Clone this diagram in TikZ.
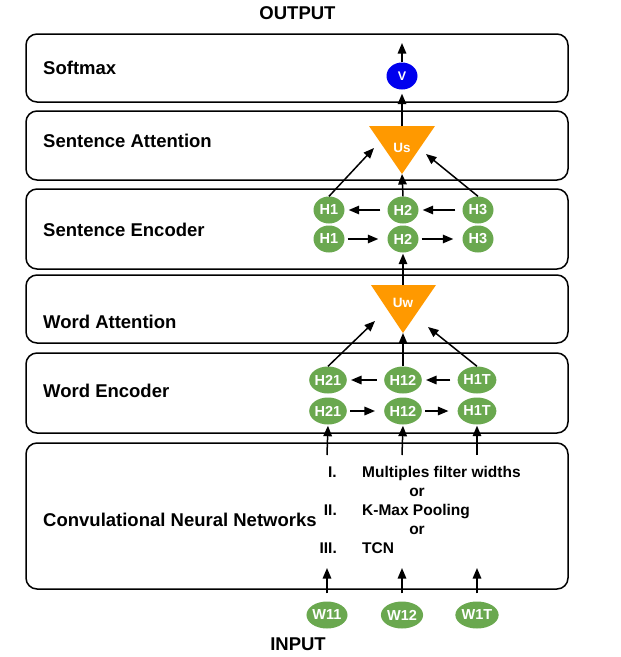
\documentclass[tikz,border=0pt]{standalone}
\usepackage{fontspec}
\setmainfont{Liberation Sans}
\usetikzlibrary{arrows.meta,shapes.geometric}
\definecolor{hgreen}{HTML}{6AA84F}
\definecolor{uorange}{HTML}{FF9900}
\definecolor{vblue}{HTML}{0000EE}
\begin{document}
\begin{tikzpicture}[x=1pt,y=-1pt,
  layerbox/.style={draw=black, line width=1.5pt, rounded corners=11pt, minimum width=542pt, inner sep=0pt},
  lbl/.style={anchor=base west, inner sep=0pt, font=\fontsize{18.5}{20}\selectfont\bfseries},
  opt/.style={anchor=base west, inner sep=0pt, font=\fontsize{15.5}{17}\selectfont\bfseries},
  optnum/.style={anchor=base east, inner sep=0pt, font=\fontsize{15.5}{17}\selectfont\bfseries},
  hnode/.style={ellipse, fill=hgreen, text=white, inner sep=0pt, minimum width=31pt, minimum height=27pt, font=\fontsize{14.5}{14}\selectfont\bfseries},
  vnode/.style={ellipse, fill=vblue, text=white, inner sep=0pt, minimum width=31pt, minimum height=27pt, font=\fontsize{12.5}{12}\selectfont\bfseries},
  tri/.style={fill=uorange},
  tritext/.style={text=white, inner sep=0pt, font=\fontsize{13.5}{13}\selectfont\bfseries},
  arr/.style={-{Triangle[length=10.5pt,width=8.5pt]}, line width=1.5pt, black},
]
\useasboundingbox (0,0) rectangle (621,657);

% layer boxes
\node[layerbox, minimum height=68pt] (softmax) at (297,68) {};
\node[layerbox, minimum height=69pt] (satt) at (297,145.5) {};
\node[layerbox, minimum height=80pt] (senc) at (297,229) {};
\node[layerbox, minimum height=68pt] (watt) at (297,309) {};
\node[layerbox, minimum height=80pt] (wenc) at (297,393) {};
\node[layerbox, minimum height=146pt] (cnn) at (297,516) {};

% layer labels
\node[lbl] (lsoft) at (43,74) {Softmax};
\node[lbl] (lsatt) at (43,147) {Sentence Attention};
\node[lbl] (lsenc) at (43,236) {Sentence Encoder};
\node[lbl] (lwatt) at (43,328.5) {Word Attention};
\node[lbl] (lwenc) at (43,397.5) {Word Encoder};
\node[lbl] (lcnn) at (43,526) {Convulational Neural Networks};
\node[lbl, anchor=base] (output) at (297.5,19.5) {OUTPUT};
\node[lbl, anchor=base] (input) at (298,650) {INPUT};

% CNN options
\node[optnum] (n1) at (337,477) {I.};
\node[opt] (o1) at (362,477) {Multiples filter widths};
\node[opt, anchor=base] (or1) at (417,496) {or};
\node[optnum] (n2) at (337,515) {II.};
\node[opt] (o2) at (362,515) {K-Max Pooling};
\node[opt, anchor=base] (or2) at (417,534) {or};
\node[optnum] (n3) at (337,553) {III.};
\node[opt] (o3) at (362,553) {TCN};

% softmax
\node[vnode] (v) at (402,76) {V};
\coordinate (vout) at (402,43);

% sentence attention triangle
\fill[tri] (369,126) -- (435,126) -- (402,174) -- cycle;
\node[tritext] (us) at (402,147.5) {Us};
\coordinate (ustop) at (402,126);
\coordinate (usapex) at (402,174);
\coordinate (usl) at (374,148);
\coordinate (usr) at (426,154);

% sentence encoder
\node[hnode] (sa1) at (329,210) {H1};
\node[hnode] (sa2) at (403,210) {H2};
\node[hnode] (sa3) at (478,210) {H3};
\node[hnode] (sb1) at (329,239) {H1};
\node[hnode] (sb2) at (403,239) {H2};
\node[hnode] (sb3) at (478,239) {H3};

% word attention triangle
\fill[tri] (371,285) -- (436,285) -- (403,333) -- cycle;
\node[tritext] (uw) at (403,303) {Uw};
\coordinate (uwtop) at (403,285);
\coordinate (uwapex) at (403,333);
\coordinate (uwl) at (375,321);
\coordinate (uwr) at (428,327);

% word encoder
\node[hnode] (wa1) at (328,380) {H21};
\node[hnode] (wa2) at (403,380) {H12};
\node[hnode] (wa3) at (477,380) {H1T};
\node[hnode] (wb1) at (328,411) {H21};
\node[hnode] (wb2) at (403,411) {H12};
\node[hnode] (wb3) at (477,411) {H1T};

% inputs
\node[hnode] (w1) at (327,615) {W11};
\node[hnode] (w2) at (402,615) {W12};
\node[hnode] (w3) at (477,615) {W1T};
\coordinate (c1) at (327,455);
\coordinate (c2) at (402,455);
\coordinate (c3) at (477,455);
\coordinate (t1) at (327,568);
\coordinate (t2) at (402,568);
\coordinate (t3) at (477,568);

% arrows: output
\draw[arr] (v.north) -- (vout);
\draw[arr, shorten >=4pt] (ustop) -- (v.south);
% sentence encoder -> Us
\draw[arr] (sa1.north) -- (usl);
\draw[arr] (sa2.north) -- (usapex);
\draw[arr] (sa3.north) -- (usr);
% sentence encoder rows
\draw[arr, shorten <=7pt, shorten >=4pt] (sa2.west) -- (sa1.east);
\draw[arr, shorten <=7pt, shorten >=4pt] (sa3.west) -- (sb2.east |- sa3.west);
\draw[arr, shorten <=3pt, shorten >=9pt] (sb1.east) -- (sb2.west);
\draw[arr, shorten <=3pt, shorten >=9pt] (sb2.east) -- (sb3.west);
% Uw -> sentence encoder
\draw[arr, shorten >=1pt] (uwtop) -- (sb2.south);
% word encoder -> Uw
\draw[arr] (wa1.north) -- (uwl);
\draw[arr] (wa2.north) -- (uwapex);
\draw[arr] (wa3.north) -- (uwr);
% word encoder rows
\draw[arr, shorten <=7pt, shorten >=4pt] (wa2.west) -- (wa1.east);
\draw[arr, shorten <=7pt, shorten >=4pt] (wa3.west) -- (wa2.east);
\draw[arr, shorten <=3pt, shorten >=9pt] (wb1.east) -- (wb2.west);
\draw[arr, shorten <=3pt, shorten >=9pt] (wb2.east) -- (wb3.west);
% CNN -> word encoder
\draw[arr, shorten >=1pt] (c1) -- (wb1.south);
\draw[arr, shorten >=1pt] (c2) -- (wb2.south);
\draw[arr, shorten >=1pt] (c3) -- (wb3.south);
% inputs -> CNN
\draw[arr, shorten <=8pt] (w1.north) -- (t1);
\draw[arr, shorten <=8pt] (w2.north) -- (t2);
\draw[arr, shorten <=8pt] (w3.north) -- (t3);
\end{tikzpicture}
\end{document}
